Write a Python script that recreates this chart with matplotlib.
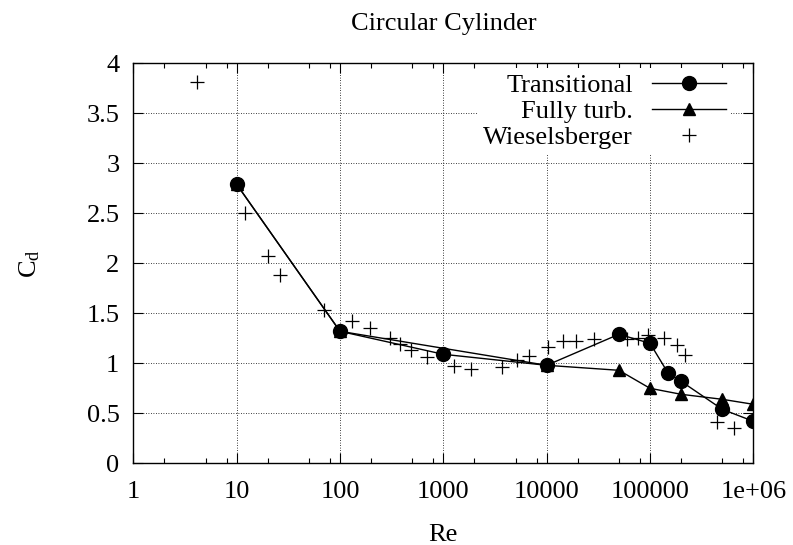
import matplotlib
matplotlib.use("Agg")
import matplotlib.pyplot as plt
from matplotlib.ticker import LogLocator, FuncFormatter, MultipleLocator, NullFormatter

# Data
trans_re = [10, 100, 1000, 1e4, 5e4, 1e5, 1.5e5, 2e5, 5e5, 1e6]
trans_cd = [2.79, 1.32, 1.09, 0.98, 1.29, 1.20, 0.90, 0.82, 0.54, 0.42]

turb_re = [10, 100, 1e4, 5e4, 1e5, 2e5, 5e5, 1e6]
turb_cd = [2.79, 1.32, 0.98, 0.93, 0.75, 0.69, 0.64, 0.59]

wies_re = [4.1, 12.1, 20.3, 26.3, 70, 130, 197, 303, 382, 490, 692,
           1280, 1840, 3680, 5140, 6820, 10400, 14300, 19300, 28800,
           59700, 75700, 96600, 137000, 182000, 219000, 444000, 650000]
wies_cd = [3.81, 2.50, 2.07, 1.88, 1.53, 1.42, 1.355, 1.25, 1.19, 1.13, 1.06,
           0.97, 0.94, 0.96, 1.03, 1.07, 1.16, 1.22, 1.22, 1.24,
           1.24, 1.25, 1.28, 1.25, 1.18, 1.08, 0.41, 0.35]

plt.rcParams['font.family'] = ['Liberation Serif', 'DejaVu Serif']
plt.rcParams['mathtext.fontset'] = 'custom'
plt.rcParams['mathtext.rm'] = 'Liberation Serif'
plt.rcParams['mathtext.it'] = 'Liberation Serif'
FS = 19

fig = plt.figure(figsize=(7.93, 5.45), dpi=100)
ax = fig.add_axes([0.1681, 0.1499, 0.950 - 0.1681, 0.8839 - 0.1499])

ax.plot(trans_re, trans_cd, color='black', lw=1.0, marker='o', ms=10,
        label='Transitional', zorder=3)
ax.plot(turb_re, turb_cd, color='black', lw=1.0, marker='^', ms=8.5,
        label='Fully turb.', zorder=3)
ax.plot(wies_re, wies_cd, ls='none', color='black', marker='+', ms=10, mew=0.9,
        label='Wieselsberger', zorder=3)

ax.set_xscale('log')
ax.set_xlim(1, 1e6)
ax.set_ylim(0, 4)

ax.xaxis.set_major_locator(LogLocator(base=10, numticks=10))
ax.xaxis.set_minor_locator(LogLocator(base=10, subs=[2, 5, 8], numticks=10))
ax.xaxis.set_minor_formatter(NullFormatter())
ax.xaxis.set_major_formatter(FuncFormatter(lambda v, p: '%g' % v))
ax.yaxis.set_major_locator(MultipleLocator(0.5))
ax.yaxis.set_major_formatter(FuncFormatter(lambda v, p: '%g' % v))

ax.tick_params(which='both', direction='in', top=True, right=True,
               width=0.8, labelsize=FS)
ax.tick_params(which='major', length=7)
ax.tick_params(which='minor', length=3.5)
ax.tick_params(axis='x', pad=13)
ax.tick_params(axis='y', pad=10)

ax.grid(True, which='major', color='black', lw=0.6, ls=(0, (1, 2)))
for s in ax.spines.values():
    s.set_linewidth(1.0)

ax.set_title('Circular Cylinder', fontsize=FS, pad=24)
ax.set_xlabel('Re', fontsize=FS, labelpad=15)
ax.set_ylabel(r'$\mathrm{C_d}$', fontsize=FS, labelpad=32)

leg = ax.legend(loc='upper right', bbox_to_anchor=(0.985, 1.02),
                markerfirst=False, fontsize=FS, handlelength=2.8,
                labelspacing=0.1, borderpad=0.2, handletextpad=0.7,
                frameon=True, fancybox=False, framealpha=1.0)
leg.get_frame().set_edgecolor('none')
leg.get_frame().set_facecolor('white')
leg.set_zorder(5)

fig.savefig('out.png', dpi=100)
